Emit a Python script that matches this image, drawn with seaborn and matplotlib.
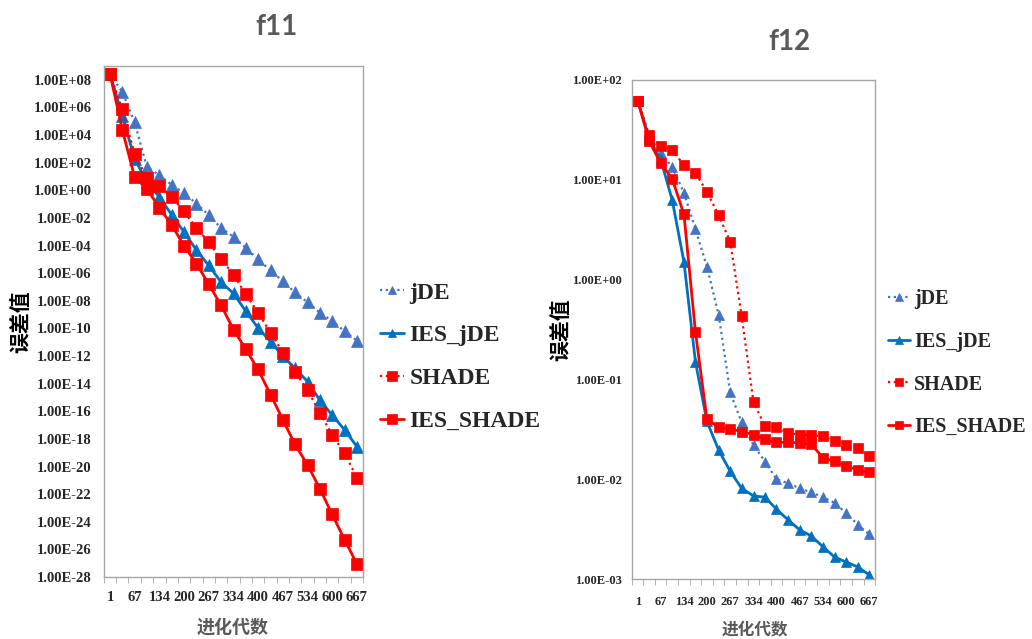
import numpy as np
import pandas as pd
import matplotlib
matplotlib.use("Agg")
import matplotlib.pyplot as plt
import seaborn as sns
from matplotlib.ticker import FixedLocator, FuncFormatter, NullLocator

# ---------------- data ----------------
gens = [1, 34, 67, 100, 134, 167, 200, 234, 267, 300, 334, 367, 400, 434, 467,
        500, 534, 567, 600, 634, 667]
tick_gens = [1, 67, 134, 200, 267, 334, 400, 467, 534, 600, 667]
algs = ["jDE", "IES_jDE", "SHADE", "IES_SHADE"]

f11_jde = [2.5e8, 1.3e7, 8.7e4, 49, 12.6, 2.5, 0.63, 0.11, 0.016, 1.9e-3, 4.3e-4,
           6.8e-5, 1.0e-5, 1.6e-6, 2.6e-7, 4.0e-8, 7.6e-9, 1.4e-9, 3.4e-10,
           6.3e-11, 1.3e-11]
f11_ies_jde = [2.5e8, 2.5e5, 200, 4.0, 0.33, 0.017, 1.0e-3, 4.6e-5, 3.7e-6,
               2.3e-7, 3.4e-8, 1.8e-9, 1.1e-10, 1.1e-11, 1.0e-12, 1.3e-13,
               1.4e-14, 6.3e-16, 5.4e-17, 4.4e-18, 2.8e-19]
f11_shade = [2.5e8, 7.1e5, 450, 7.8, 1.9, 0.35, 0.03, 1.9e-3, 1.8e-4, 1.1e-5,
             7.9e-7, 3.0e-8, 1.4e-9, 5.0e-11, 1.8e-12, 7.4e-14, 3.2e-15,
             7.9e-17, 2.0e-18, 8.9e-20, 1.6e-21]
f11_ies_shade = [2.5e8, 2.4e4, 9.1, 1.3, 0.055, 3.2e-3, 1.0e-4, 5.0e-6, 1.6e-7,
                 5.0e-9, 8.3e-11, 3.2e-12, 1.1e-13, 1.6e-15, 2.5e-17, 4.0e-19,
                 1.3e-20, 2.5e-22, 3.5e-24, 5.0e-26, 8.9e-28]

f12_jde = [62, 27, 18.5, 13.5, 7.4, 3.2, 1.35, 0.44, 0.074, 0.037, 0.022, 0.015,
           0.010, 9.1e-3, 8.1e-3, 7.4e-3, 6.6e-3, 5.8e-3, 4.6e-3, 3.5e-3, 2.8e-3]
f12_ies_jde = [62, 26, 16, 6.3, 1.5, 0.15, 0.038, 0.0195, 0.012, 8.1e-3, 6.8e-3,
               6.6e-3, 5.0e-3, 3.9e-3, 3.1e-3, 2.7e-3, 2.1e-3, 1.66e-3, 1.48e-3,
               1.32e-3, 1.1e-3]
f12_shade = [62, 28, 22, 20, 14, 11.7, 7.6, 4.4, 2.4, 0.43, 0.059, 0.034, 0.033,
             0.029, 0.028, 0.0275, 0.027, 0.024, 0.022, 0.0207, 0.017]
f12_ies_shade = [62, 24.5, 14.6, 10.3, 4.5, 0.30, 0.040, 0.033, 0.032, 0.030,
                 0.028, 0.025, 0.0234, 0.0234, 0.0232, 0.0224, 0.0164, 0.0151,
                 0.0137, 0.0123, 0.0117]

f11_series = [f11_jde, f11_ies_jde, f11_shade, f11_ies_shade]
f12_series = [f12_jde, f12_ies_jde, f12_shade, f12_ies_shade]

# ---------------- style ----------------
sns.set_style("white")
plt.rcParams["font.family"] = ["Liberation Serif", "Noto Sans CJK SC"]
plt.rcParams["font.weight"] = "bold"

colors = {"jDE": "#4472C4", "IES_jDE": "#0070C0", "SHADE": "#FF0000", "IES_SHADE": "#FF0000"}
markers = {"jDE": "^", "IES_jDE": "^", "SHADE": "s", "IES_SHADE": "s"}
lstyles = {"jDE": (0, (1, 1.6)), "IES_jDE": "-", "SHADE": (0, (1, 1.6)), "IES_SHADE": "-"}
lwidths = {"jDE": 1.6, "IES_jDE": 2.0, "SHADE": 1.6, "IES_SHADE": 2.0}

fig = plt.figure(figsize=(10.32, 6.39), dpi=100)
axL = fig.add_axes([104 / 1032, 1 - 577 / 639, 259 / 1032, 511 / 639])
axR = fig.add_axes([632 / 1032, 1 - 579 / 639, 243 / 1032, 499 / 639])

edges = [gens[0] - (gens[1] - gens[0]) / 2]
edges += [(a + b) / 2 for a, b in zip(gens[:-1], gens[1:])]
edges += [gens[-1] + (gens[-1] - gens[-2]) / 2]

grey = "#A6A6A6"


def draw(ax, series, ms_sq, ms_tri):
    for name, vals in zip(algs, series):
        ms = ms_sq if markers[name] == "s" else ms_tri
        sns.lineplot(x=gens, y=vals, ax=ax, color=colors[name], marker=markers[name],
                     markersize=ms, markeredgecolor=colors[name], markeredgewidth=0.5,
                     linestyle=lstyles[name], linewidth=lwidths[name], label=name,
                     estimator=None, sort=False)
    ax.set_yscale("log")
    ax.set_xlim(edges[0], edges[-1])
    ax.xaxis.set_major_locator(FixedLocator(tick_gens))
    ax.xaxis.set_minor_locator(FixedLocator(edges))
    ax.yaxis.set_minor_locator(NullLocator())
    ax.yaxis.set_major_formatter(FuncFormatter(lambda v, p: f"{v:.2E}"))
    for s in ax.spines.values():
        s.set_color(grey)
        s.set_linewidth(1.0)
    ax.tick_params(axis="x", which="minor", length=4, color=grey, direction="out", bottom=True)
    ax.tick_params(axis="x", which="major", length=0)
    ax.tick_params(axis="y", which="major", length=0)
    ax.set_xlabel("")
    ax.set_ylabel("")
    ax.grid(False)


draw(axL, f11_series, 8.5, 8)
draw(axR, f12_series, 7.5, 7)

axL.set_ylim(1e-28, 1e9)
axL.yaxis.set_major_locator(FixedLocator([10.0 ** e for e in range(-28, 9, 2)]))
axR.set_ylim(1e-3, 1e2)
axR.yaxis.set_major_locator(FixedLocator([10.0 ** e for e in range(-3, 3)]))

for lab in axL.get_xticklabels() + axL.get_yticklabels():
    lab.set_fontsize(10.5)
    lab.set_fontweight("bold")
for lab in axR.get_xticklabels() + axR.get_yticklabels():
    lab.set_fontsize(9)
    lab.set_fontweight("bold")
axL.tick_params(axis="x", which="major", pad=10)
axL.tick_params(axis="y", which="major", pad=9)
axR.tick_params(axis="x", which="major", pad=12)
axR.tick_params(axis="y", which="major", pad=7)

cjk = ["Noto Sans CJK SC", "DejaVu Sans"]
# titles
fig.text(277 / 1032, 1 - 27 / 639, "f11", ha="center", va="center", fontsize=20,
         color="#595959", family=["Lato", "DejaVu Sans"], fontweight="bold")
fig.text(789 / 1032, 1 - 42 / 639, "f12", ha="center", va="center", fontsize=20,
         color="#595959", family=["Lato", "DejaVu Sans"], fontweight="bold")
# axis labels
fig.text(233 / 1032, 1 - 627 / 639, "进化代数", ha="center", va="center", fontsize=13,
         color="#595959", family=cjk)
fig.text(755 / 1032, 1 - 629 / 639, "进化代数", ha="center", va="center", fontsize=12,
         color="#595959", family=cjk)
fig.text(21 / 1032, 1 - 322 / 639, "误差值", ha="center", va="center", fontsize=15,
         rotation=90, color="black", family=cjk, fontweight="bold")
fig.text(561 / 1032, 1 - 330 / 639, "误差值", ha="center", va="center", fontsize=15,
         rotation=90, color="black", family=cjk, fontweight="bold")

# legends
h, l = axL.get_legend_handles_labels()
axL.legend(h, l, loc="upper left", bbox_to_anchor=(380 / 1032, 1 - 282 / 639),
           bbox_transform=fig.transFigure, frameon=False, borderpad=0, borderaxespad=0,
           handlelength=1.0, handletextpad=0.25, labelspacing=0.9, numpoints=1,
           markerscale=0.8, prop={"family": "Liberation Serif", "weight": "bold", "size": 17})
h, l = axR.get_legend_handles_labels()
axR.legend(h, l, loc="upper left", bbox_to_anchor=(888 / 1032, 1 - 289 / 639),
           bbox_transform=fig.transFigure, frameon=False, borderpad=0, borderaxespad=0,
           handlelength=1.1, handletextpad=0.2, labelspacing=1.13, numpoints=1,
           markerscale=0.8, prop={"family": "Liberation Serif", "weight": "bold", "size": 14.5})

fig.savefig("out.png", dpi=100, facecolor="white")
